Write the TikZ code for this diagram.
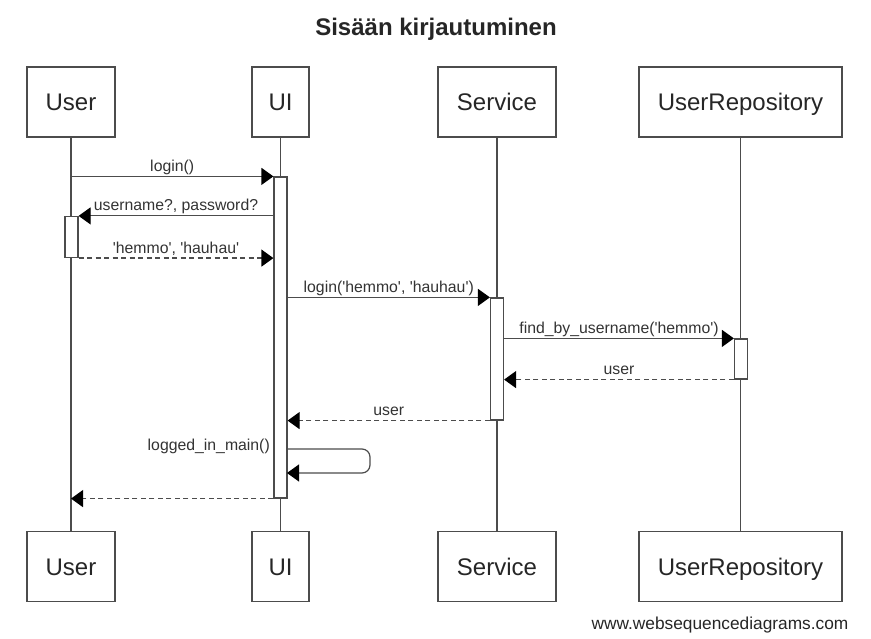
\documentclass[tikz,border=0pt]{standalone}
\usepackage{fontspec}
\setmainfont{Liberation Sans}
\usetikzlibrary{arrows.meta}

\tikzset{
  actor/.style={draw=black!70, line width=1.2pt, minimum height=70pt, inner sep=0pt,
    text height=18pt, text depth=0pt, font=\fontsize{24}{28}\selectfont, text=black!85},
  act/.style={draw=black!70, line width=1.2pt, fill=white, inner sep=0pt, minimum width=13pt},
  life/.style={draw=black!70, line width=1.2pt},
  msg/.style={draw=black!70, line width=1.2pt, -{Triangle[length=12pt,width=17pt,color=black]}},
  reply/.style={msg, dash pattern=on 5pt off 3.5pt},
  lbl/.style={anchor=base, yshift=5pt, inner sep=0pt, font=\fontsize{15.8}{18}\selectfont, text=black!80},
}
\newcommand{\qt}{\textquotesingle}

\begin{document}
\begin{tikzpicture}[x=1pt,y=-1pt]
          \useasboundingbox (0,0) rectangle (871,639);
          \node[font=\bfseries\fontsize{24}{28}\selectfont, text=black!85] (title) at (436,29) {Sisään kirjautuminen};

          % participants
          \node[actor, minimum width=88pt] (user) at (71,102) {User};
          \node[actor, minimum width=57pt] (ui) at (280.5,102) {UI};
          \node[actor, minimum width=118pt] (serv) at (497,102) {Service};
          \node[actor, minimum width=203pt] (repo) at (740.5,102) {UserRepository};

          \node[actor, minimum width=88pt] (user2) at (71,566.5) {User};
          \node[actor, minimum width=57pt] (ui2) at (280.5,566.5) {UI};
          \node[actor, minimum width=118pt] (serv2) at (497,566.5) {Service};
          \node[actor, minimum width=203pt] (repo2) at (740.5,566.5) {UserRepository};

          % lifelines
          \draw[life] (user) -- (user2);
          \draw[life] (ui) -- (ui2);
          \draw[life] (serv) -- (serv2);
          \draw[life] (repo) -- (repo2);

          % activations
          \node[act, minimum height=321pt] (aUI) at (280.5,337.5) {};
          \node[act, minimum height=41pt] (aU) at (71.5,237) {};
          \node[act, minimum height=122pt] (aS) at (497,359) {};
          \node[act, minimum height=40pt] (aR) at (741,359) {};

          % messages
          \draw[msg] (user |- aUI.north) -- node[lbl]{login()} (aUI.north west);
          \draw[msg] (aUI.west |- aU.north) -- node[lbl]{username?, password?} (aU.north east);
          \draw[reply] (aU.south east) -- node[lbl]{\qt hemmo\qt, \qt hauhau\qt} (aUI.west |- aU.south);
          \draw[msg] (aUI.east |- aS.north) -- node[lbl]{login(\qt hemmo\qt, \qt hauhau\qt)} (aS.north west);
          \draw[msg] (aS.east |- aR.north) -- node[lbl]{find\_by\_username(\qt hemmo\qt)} (aR.north west);
          \draw[reply] (aR.south west) -- node[lbl]{user} (aS.east |- aR.south);
          \draw[reply] (aS.south west) -- node[lbl]{user} (aUI.east |- aS.south);

          % self call
          \coordinate (l1) at (287,449);
          \coordinate (l2) at (287,473);
          \draw[msg, rounded corners=8pt] (l1) -- ++(83,0) |- (l2);
          \node[lbl, anchor=base east, yshift=0pt] (lgd) at (270,455) {logged\_in\_main()};

          \draw[reply] (aUI.south west) -- (user |- aUI.south);

          \node[font=\fontsize{17.3}{19}\selectfont, text=black!85] (wsd) at (720,625) {www.websequencediagrams.com};
        \end{tikzpicture}
\end{document}
